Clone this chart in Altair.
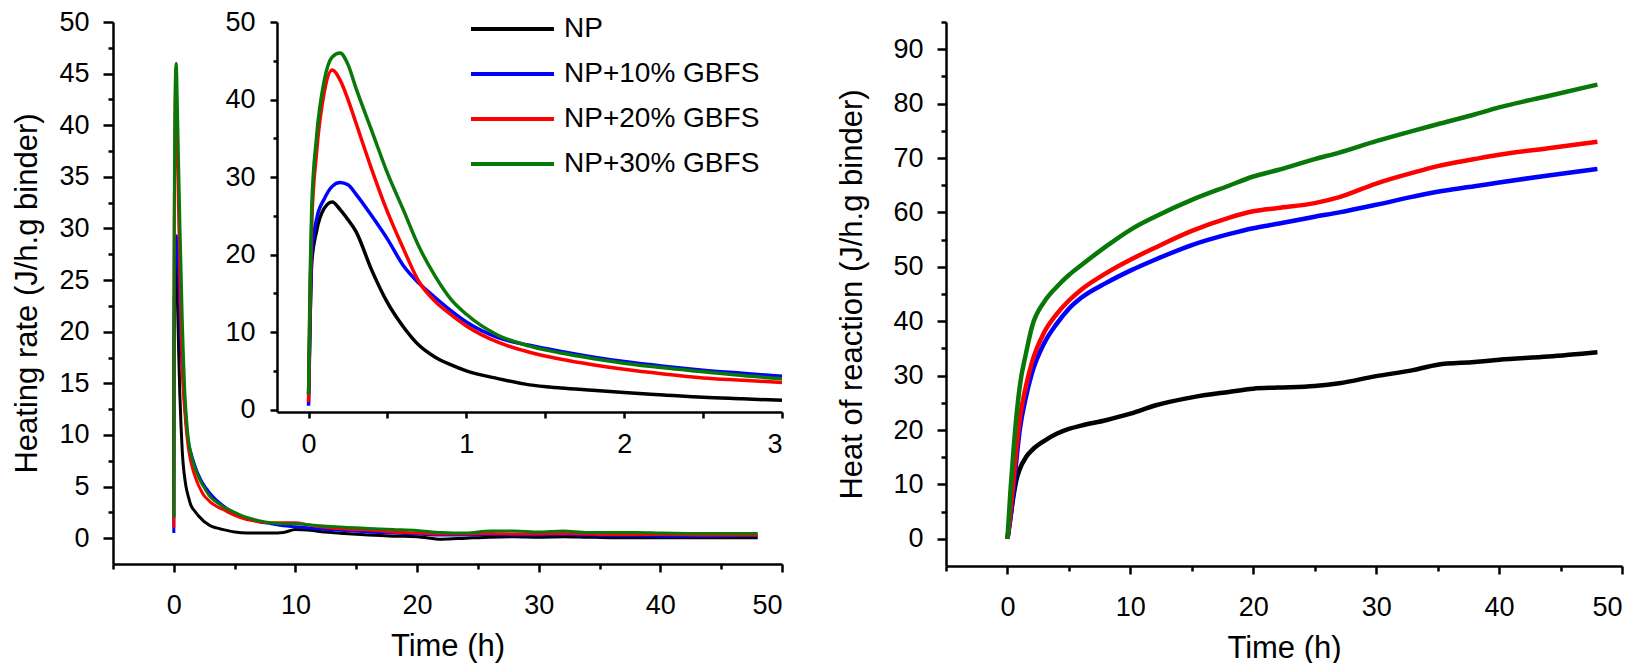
import altair as alt
import pandas as pd

FONT = "Liberation Sans"
SERIES = ["NP", "NP+10% GBFS", "NP+20% GBFS", "NP+30% GBFS"]
COLORS = ["#000000", "#0000ff", "#ff0000", "#087808"]

# ---- Heating rate (left panel) ----
T_RATE = [0, 0.01, 0.02, 0.05, 0.1, 0.15, 0.2, 0.25, 0.3, 0.4, 0.5, 0.6, 0.7, 0.8, 0.9,
          1.0, 1.2, 1.4, 1.6, 1.8, 2.0, 2.25, 2.5, 2.75, 3.0,
          3.5, 4, 5, 6, 7, 8, 9, 10, 11, 12, 14, 16, 18, 20, 22, 24, 26, 28, 30,
          32, 34, 36, 38, 40, 44, 48]
RATE_NP = [2, 12, 19, 23, 26, 26.8, 25.8, 24.5, 23, 18, 13.8, 10.7, 8.3, 6.8, 5.8,
           5.0, 4.0, 3.2, 2.8, 2.5, 2.2, 1.9, 1.6, 1.4, 1.2,
           1.0, 0.85, 0.6, 0.5, 0.5, 0.5, 0.55, 0.85, 0.8, 0.65, 0.45, 0.3, 0.2, 0.15, -0.1,
           0.0, 0.1, 0.15, 0.1, 0.15, 0.1, 0.05, 0.05, 0.05, 0.05, 0.05]
RATE_10 = [0.5, 12, 20, 24.5, 27.2, 28.8, 29.3, 29.0, 27.8, 25.0, 22.0, 18.6, 16.3, 14.5, 12.8,
           11.3, 9.3, 8.3, 7.5, 6.8, 6.2, 5.6, 5.1, 4.7, 4.3,
           3.7, 3.2, 2.4, 1.9, 1.6, 1.4, 1.2, 1.1, 1.0, 0.9, 0.75, 0.6, 0.5, 0.4, 0.3,
           0.3, 0.35, 0.3, 0.3, 0.35, 0.3, 0.25, 0.25, 0.2, 0.2, 0.25]
RATE_20 = [1, 15, 24, 33, 41, 43.8, 42.5, 40, 37, 31, 25.5, 20.8, 16.5, 14.0, 12.3,
           10.8, 8.7, 7.4, 6.5, 5.8, 5.2, 4.6, 4.1, 3.8, 3.5,
           3.1, 2.8, 2.2, 1.8, 1.6, 1.5, 1.5, 1.5, 1.3, 1.1, 0.9, 0.8, 0.6, 0.5, 0.4,
           0.4, 0.45, 0.4, 0.4, 0.45, 0.4, 0.35, 0.35, 0.35, 0.3, 0.3]
RATE_30 = [2, 17, 26, 35, 42.5, 45.5, 46.0, 44.5, 41.5, 36, 30.5, 25.8, 21, 17.3, 14.3,
           12.3, 9.6, 8.2, 7.3, 6.6, 6.0, 5.4, 4.9, 4.4, 4.0,
           3.5, 3.1, 2.5, 2.0, 1.7, 1.5, 1.4, 1.4, 1.3, 1.2, 1.05, 0.95, 0.85, 0.75, 0.55,
           0.5, 0.7, 0.7, 0.6, 0.7, 0.55, 0.55, 0.55, 0.5, 0.45, 0.45]

# ---- Heat of reaction (right panel) ----
T_HEAT = [0, 0.25, 0.5, 0.75, 1, 1.5, 2, 3, 4, 5, 6, 8, 10, 12, 15, 18, 20, 22, 25, 27,
          30, 33, 35, 38, 40, 44, 48]
HEAT_NP = [0, 4, 8, 11, 12.8, 15, 16.3, 18.0, 19.3, 20.2, 20.8, 21.8, 23.0, 24.5, 26.0, 27.0,
           27.6, 27.8, 28.1, 28.6, 29.9, 31.0, 32.0, 32.5, 32.9, 33.5, 34.3]
HEAT_10 = [0, 4, 9, 15, 20, 26, 30.5, 36, 39.5, 42.3, 44.3, 47, 49.3, 51.3, 54.0, 56, 57.1,
           57.9, 59.2, 60.0, 61.4, 62.9, 63.8, 64.8, 65.5, 66.8, 68.0]
HEAT_20 = [0, 5, 11, 17, 22, 28, 32.5, 38, 41.3, 43.8, 45.8, 48.8, 51.3, 53.5, 56.6, 59, 60.2,
           60.8, 61.7, 62.8, 65.3, 67.3, 68.5, 69.8, 70.6, 71.8, 73.0]
HEAT_30 = [0, 9, 16.5, 23, 28, 34, 39, 43.6, 46.3, 48.5, 50.3, 53.7, 56.8, 59.2, 62.3, 64.9,
           66.6, 67.8, 69.8, 71.0, 73.1, 75.0, 76.2, 78.0, 79.3, 81.4, 83.5]


def long_df(times, columns):
    rows = []
    for name, vals in zip(SERIES, columns):
        for i, (t, v) in enumerate(zip(times, vals)):
            rows.append({"t": t, "v": v, "series": name, "k": i})
    return pd.DataFrame(rows)


rate_df = long_df(T_RATE, [RATE_NP, RATE_10, RATE_20, RATE_30])
inset_df = rate_df[rate_df["t"] <= 3.0]
heat_df = long_df(T_HEAT, [HEAT_NP, HEAT_10, HEAT_20, HEAT_30])

AX = dict(domainColor="black", domainWidth=2.5, tickColor="black", tickWidth=2.5,
          labelColor="black", labelFont=FONT, labelFontSize=27, titleFont=FONT,
          titleFontSize=31, titleFontWeight="normal", titleColor="black", grid=False,
          labelAngle=0)


def tsize(test, major, minor):
    return {"condition": {"test": test, "value": major}, "value": minor}


def lbl(test):
    return f"{test} ? format(datum.value, 'd') : ''"


W_L, H_L = 669, 542
W_R, H_R = 676, 544
IN_BOTTOM = 390   # inset bottom, px below plot top
IN_LEFT = 164     # inset left, px right of plot left

color_scale = alt.Scale(domain=SERIES, range=COLORS)
legend = alt.Legend(orient="none", legendX=356, legendY=-8, title=None,
                    symbolType="stroke", symbolSize=6889, symbolStrokeWidth=4,
                    labelFont=FONT, labelFontSize=28, labelColor="black",
                    labelOffset=8, clipHeight=30, rowPadding=15, padding=0,
                    labelLimit=400)

x_main = alt.X("t:Q", scale=alt.Scale(domain=[-5, 50], nice=False, zero=False),
               axis=alt.Axis(title="Time (h)", values=list(range(-5, 51, 5)),
                             labelExpr=lbl("datum.value % 10 === 0"),
                             tickSize=tsize("datum.value % 10 === 0", 8, 5),
                             labelPadding=20, titlePadding=13, **AX))
y_main = alt.Y("v:Q", scale=alt.Scale(domain=[-2.5, 50], nice=False, zero=False),
               axis=alt.Axis(title="Heating rate (J/h.g binder)",
                             values=[i * 2.5 for i in range(0, 21)],
                             labelExpr=lbl("datum.value % 5 === 0"),
                             tickSize=tsize("datum.value % 5 === 0", 10, 5),
                             labelPadding=14, titlePadding=15, **AX))

main = alt.Chart(rate_df).mark_line(strokeWidth=3, interpolate="monotone").encode(
    x=x_main, y=y_main,
    color=alt.Color("series:N", scale=color_scale, legend=legend),
    order="k:Q",
)

x_in = alt.X("t:Q", scale=alt.Scale(domain=[-0.2, 3], range=[IN_LEFT, W_L], nice=False, zero=False),
             axis=alt.Axis(title=None, orient="bottom", offset=-(H_L - IN_BOTTOM),
                           values=[i * 0.5 for i in range(0, 7)],
                           labelExpr=lbl("datum.value % 1 === 0"),
                           tickSize=6, labelPadding=13, **AX))
y_in = alt.Y("v:Q", scale=alt.Scale(domain=[-0.3, 50], range=[IN_BOTTOM, 0], nice=False, zero=False),
             axis=alt.Axis(title=None, orient="left", offset=-IN_LEFT,
                           values=list(range(0, 51, 5)),
                           labelExpr=lbl("datum.value % 10 === 0"),
                           tickSize=tsize("datum.value % 10 === 0", 7, 4),
                           labelPadding=15, **AX))

inset = alt.Chart(inset_df).mark_line(strokeWidth=3.5, interpolate="monotone").encode(
    x=x_in, y=y_in,
    color=alt.Color("series:N", scale=color_scale, legend=legend),
    order="k:Q",
)

left = alt.layer(main, inset).resolve_scale(x="independent", y="independent").properties(
    width=W_L, height=H_L)

x_r = alt.X("t:Q", scale=alt.Scale(domain=[-5, 50], nice=False, zero=False),
            axis=alt.Axis(title="Time (h)", values=list(range(-5, 51, 5)),
                          labelExpr=lbl("datum.value % 10 === 0"),
                          tickSize=tsize("datum.value % 10 === 0", 8, 5),
                          labelPadding=20, titlePadding=13, **AX))
y_r = alt.Y("v:Q", scale=alt.Scale(domain=[-5, 95], nice=False, zero=False),
            axis=alt.Axis(title="Heat of reaction (J/h.g binder)",
                          values=list(range(0, 96, 5)),
                          labelExpr=lbl("datum.value % 10 === 0"),
                          tickSize=tsize("datum.value % 10 === 0", 9, 5),
                          labelPadding=14, titlePadding=24, **AX))

right = alt.Chart(heat_df).mark_line(strokeWidth=4.5, interpolate="monotone").encode(
    x=x_r, y=y_r,
    color=alt.Color("series:N", scale=color_scale, legend=None),
    order="k:Q",
).properties(width=W_R, height=H_R)

chart = alt.hconcat(left, right, spacing=47).resolve_legend(color="independent").properties(
    padding={"left": 3, "top": 0, "right": 0, "bottom": 0},
    background="white",
).configure_view(stroke=None)

chart.save("out.html", embed_options={"renderer": "svg", "actions": False})
